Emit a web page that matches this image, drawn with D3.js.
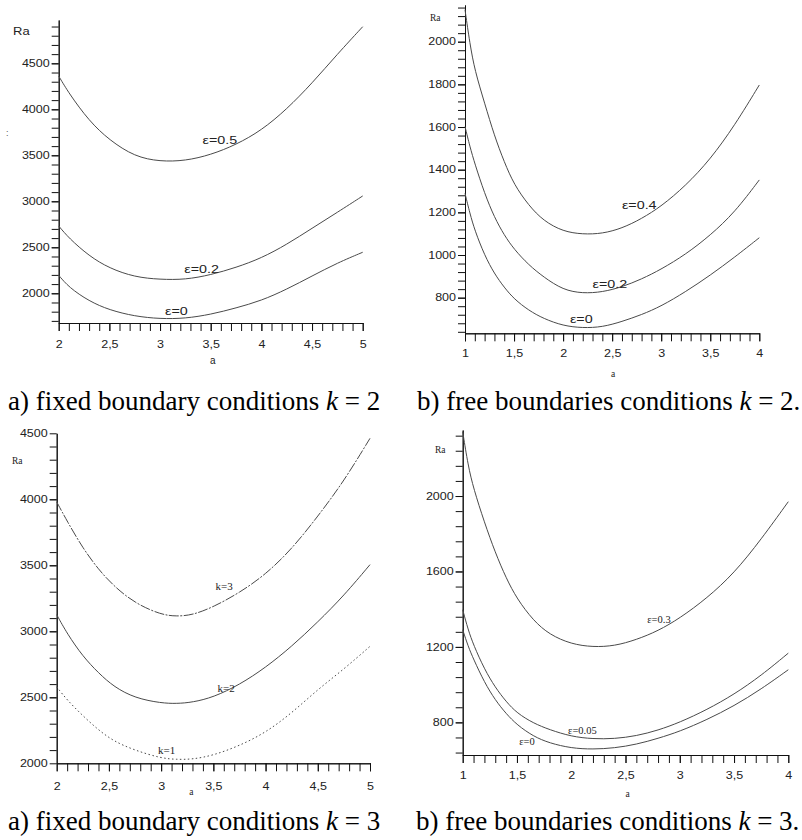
<!DOCTYPE html>
<html>
<head>
<meta charset="utf-8">
<script src="https://cdn.jsdelivr.net/npm/d3@7"></script>
<style>
body { margin: 0; background: #fff; }
</style>
</head>
<body>
<svg width="802" height="840"></svg>
<script>
// a) fixed boundary conditions, k = 2  (Ra vs a, three epsilons)
var aFixedK2 = [2, 2.1, 2.3, 2.5, 2.75, 3, 3.25, 3.5, 3.75, 4, 4.25, 4.5, 4.75, 5];
var fixedK2Eps05 = [4362, 4175, 3873, 3665, 3485, 3432, 3440, 3505, 3615, 3770, 4000, 4283, 4600, 4898];
var fixedK2Eps02 = [2732, 2600, 2405, 2272, 2176, 2150, 2148, 2200, 2280, 2382, 2530, 2707, 2880, 3058];
var fixedK2Eps0  = [2196, 2065, 1914, 1818, 1750, 1722, 1726, 1770, 1840, 1920, 2043, 2188, 2330, 2446];
var fixedK2Labels = ["ε=0.5", "ε=0.2", "ε=0"];

// b) free boundaries conditions, k = 2
var aFreeK2 = [1, 1.05, 1.1, 1.2, 1.3, 1.4, 1.5, 1.65, 1.8, 2, 2.2, 2.4, 2.6, 2.8, 3, 3.25, 3.5, 3.75, 4];
var freeK2Eps04 = [2150, 1990, 1865, 1712, 1558, 1436, 1330, 1232, 1160, 1110, 1097, 1100, 1125, 1170, 1228, 1325, 1448, 1608, 1797];
var freeK2Eps02 = [1602, 1508, 1428, 1288, 1176, 1093, 1027, 953, 897, 836, 820, 826, 850, 887, 933, 1003, 1092, 1200, 1352];
var freeK2Eps0  = [1289, 1195, 1115, 998, 912, 848, 794, 740, 702, 668, 658, 662, 688, 720, 760, 828, 905, 990, 1081];
var freeK2Labels = ["ε=0.4", "ε=0.2", "ε=0"];

// a) fixed boundary conditions, k = 3  (curves for k = 1, 2, 3)
var aFixedK3 = [2, 2.1, 2.25, 2.4, 2.55, 2.75, 3, 3.15, 3.3, 3.5, 3.75, 4, 4.25, 4.5, 4.75, 5];
var fixedK3k3 = [3980, 3834, 3630, 3468, 3340, 3212, 3125, 3113, 3123, 3184, 3292, 3430, 3622, 3870, 4137, 4462];
var fixedK3k2 = [3126, 2982, 2810, 2684, 2578, 2494, 2456, 2452, 2462, 2500, 2595, 2725, 2885, 3070, 3270, 3505];
var fixedK3k1 = [2579, 2479, 2360, 2252, 2165, 2098, 2038, 2029, 2030, 2060, 2133, 2232, 2380, 2560, 2713, 2886];
var fixedK3Labels = ["k=3", "k=2", "k=1"];

// b) free boundaries conditions, k = 3
var aFreeK3 = [1, 1.05, 1.1, 1.2, 1.3, 1.4, 1.5, 1.65, 1.8, 2, 2.2, 2.4, 2.6, 2.8, 3, 3.25, 3.5, 3.75, 4];
var freeK3Eps03  = [2341, 2160, 2040, 1860, 1700, 1565, 1455, 1340, 1265, 1215, 1199, 1205, 1238, 1285, 1352, 1458, 1590, 1770, 1970];
var freeK3Eps005 = [1397, 1291, 1210, 1082, 985, 910, 849, 796, 761, 725, 712, 713, 728, 758, 800, 867, 948, 1048, 1167];
var freeK3Eps0   = [1291, 1203, 1135, 1012, 918, 846, 787, 726, 690, 663, 657, 664, 683, 715, 752, 814, 887, 976, 1079];
var freeK3Labels = ["ε=0.3", "ε=0.05", "ε=0"];

// tick labels
var xTicks25 = [2, 2.5, 3, 3.5, 4, 4.5, 5];
var xTicks14 = [1, 1.5, 2, 2.5, 3, 3.5, 4];
var yTicksA = [2000, 2500, 3000, 3500, 4000, 4500];
var yTicksB = [800, 1000, 1200, 1400, 1600, 1800, 2000];
var yTicksC = [2000, 2500, 3000, 3500, 4000, 4500];
var yTicksD = [800, 1200, 1600, 2000];

var captions = [
    ["a) fixed boundary conditions ", "k", " = 2"],
    ["b) free boundaries conditions ", "k", " = 2."],
    ["a) fixed boundary conditions ", "k", " = 3"],
    ["b) free boundaries conditions ", "k", " = 3."]
];

var svg = d3.select("svg");
var sans = "'Liberation Sans', Arial, sans-serif";
var serif = "'Liberation Serif', 'Times New Roman', serif";

function widen(sel, k) {
    sel.each(function() {
        var w = this.getComputedTextLength();
        d3.select(this).attr("textLength", w * k).attr("lengthAdjust", "spacingAndGlyphs");
    });
}

function commaFmt(d) { return String(d).replace(".", ","); }

function drawPanel(p) {
    var x = d3.scaleLinear().domain(d3.extent(p.a)).range([p.left, p.right]);
    var y = d3.scaleLinear().domain(p.yDomain).range([p.bottom, p.top]);
    var g = svg.append("g");

    // minor ticks first, then majors with labels
    g.append("g")
        .attr("transform", "translate(0," + p.bottom + ")")
        .call(d3.axisBottom(x).tickValues(d3.range(x.domain()[0], x.domain()[1] + 0.001, 0.1)).tickFormat("").tickSize(8).tickSizeOuter(0));
    var xa = g.append("g")
        .attr("transform", "translate(0," + p.bottom + ")")
        .call(d3.axisBottom(x).tickValues(p.xTicks).tickFormat(commaFmt).tickSize(8).tickSizeOuter(0).tickPadding(p.xPad));

    g.append("g")
        .attr("transform", "translate(" + p.left + ",0)")
        .call(d3.axisLeft(y).tickValues(d3.range(p.minorFrom, p.yDomain[1], p.minorStep)).tickFormat("").tickSize(7).tickSizeOuter(0));
    var ya = g.append("g")
        .attr("transform", "translate(" + p.left + ",0)")
        .call(d3.axisLeft(y).tickValues(p.yTicks).tickFormat(function(d) { return String(d); }).tickSize(7).tickSizeOuter(0).tickPadding(2));

    g.selectAll(".domain").attr("stroke", "#111");
    g.selectAll(".tick line").attr("stroke", "#111");
    g.selectAll(".tick text").attr("font-family", sans).attr("font-size", 10).attr("fill", "#222");
    widen(xa.selectAll(".tick text"), 1.25);
    widen(ya.selectAll(".tick text"), 1.25);

    var line = d3.line()
        .x(function(d, i) { return x(p.a[i]); })
        .y(function(d) { return y(d); })
        .curve(d3.curveBasis);

    p.series.forEach(function(s, i) {
        g.append("path")
            .attr("d", line(s))
            .attr("fill", "none")
            .attr("stroke", "#4a4a4a")
            .attr("stroke-width", 1)
            .attr("stroke-dasharray", p.dash ? p.dash[i] : null);
    });

    p.labels.forEach(function(t, i) {
        var lt = g.append("text")
            .attr("x", x(p.labelPos[i][0]))
            .attr("y", y(p.labelPos[i][1]))
            .attr("font-family", p.labelFont)
            .attr("font-size", p.labelSize)
            .attr("fill", "#222")
            .text(t);
        if (p.labelWiden) widen(lt, p.labelWiden);
    });

    // axis titles
    var ra = g.append("text")
        .attr("x", p.raPos[0]).attr("y", p.raPos[1])
        .attr("font-family", p.raFont).attr("font-size", p.raSize).attr("fill", "#222")
        .text("Ra");
    if (p.raFont == sans) widen(ra, 1.3);
    g.append("text")
        .attr("x", x(p.aPos[0])).attr("y", p.aPos[1])
        .attr("text-anchor", "middle")
        .attr("font-family", p.raFont).attr("font-size", p.raSize).attr("fill", "#222")
        .text("a");

    var c = svg.append("text")
        .attr("x", p.capPos[0]).attr("y", p.capPos[1])
        .attr("font-family", serif).attr("font-size", 27).attr("fill", "#000");
    c.append("tspan").text(p.caption[0]);
    c.append("tspan").attr("font-style", "italic").text(p.caption[1]);
    c.append("tspan").text(p.caption[2]);
}

drawPanel({
    a: aFixedK2, series: [fixedK2Eps05, fixedK2Eps02, fixedK2Eps0],
    labels: fixedK2Labels, labelPos: [[3.42, 3620], [3.24, 2225], [3.05, 1760]],
    labelFont: sans, labelSize: 11, labelWiden: 1.3,
    left: 58.7, right: 362.7, top: 20, bottom: 323, yDomain: [1677, 4971],
    minorFrom: 1700, minorStep: 100, xTicks: xTicks25, yTicks: yTicksA, xPad: 10,
    raPos: [13, 35], raFont: sans, raSize: 10, aPos: [3.52, 364],
    caption: captions[0], capPos: [8, 410]
});

drawPanel({
    a: aFreeK2, series: [freeK2Eps04, freeK2Eps02, freeK2Eps0],
    labels: freeK2Labels, labelPos: [[2.6, 1217], [2.3, 847], [2.07, 683]],
    labelFont: sans, labelSize: 11, labelWiden: 1.3,
    left: 465, right: 759.3, top: 5, bottom: 333.3, yDomain: [633, 2172],
    minorFrom: 640, minorStep: 40, xTicks: xTicks14, yTicks: yTicksB, xPad: 9,
    raPos: [430, 21], raFont: serif, raSize: 9.5, aPos: [2.51, 377],
    caption: captions[1], capPos: [417, 410]
});

drawPanel({
    a: aFixedK3, series: [fixedK3k3, fixedK3k2, fixedK3k1],
    labels: fixedK3Labels, labelPos: [[3.52, 3310], [3.54, 2540], [2.97, 2070]],
    labelFont: serif, labelSize: 11,
    left: 56.7, right: 370, top: 433.3, bottom: 763.3, yDomain: [2000, 4500],
    minorFrom: 2100, minorStep: 100, xTicks: xTicks25, yTicks: yTicksC, xPad: 12,
    raPos: [12, 464], raFont: serif, raSize: 9.5, aPos: [3.29, 795],
    caption: captions[2], capPos: [8, 830],
    dash: ["10,1.5,2,1.5", null, "1.5,2.5"]
});

drawPanel({
    a: aFreeK3, series: [freeK3Eps03, freeK3Eps005, freeK3Eps0],
    labels: freeK3Labels, labelPos: [[2.7, 1325], [1.97, 738], [1.52, 680]],
    labelFont: serif, labelSize: 10.5,
    left: 462.7, right: 788.3, top: 430, bottom: 755, yDomain: [627, 2350],
    minorFrom: 640, minorStep: 80, xTicks: xTicks14, yTicks: yTicksD, xPad: 9,
    raPos: [435, 453], raFont: serif, raSize: 9.5, aPos: [2.52, 797],
    caption: captions[3], capPos: [416, 830]
});

// stray mark left of the first axis
svg.append("text").attr("x", 6).attr("y", 136)
    .attr("font-family", sans).attr("font-size", 9).attr("fill", "#555").text(":");
</script>
</body>
</html>
